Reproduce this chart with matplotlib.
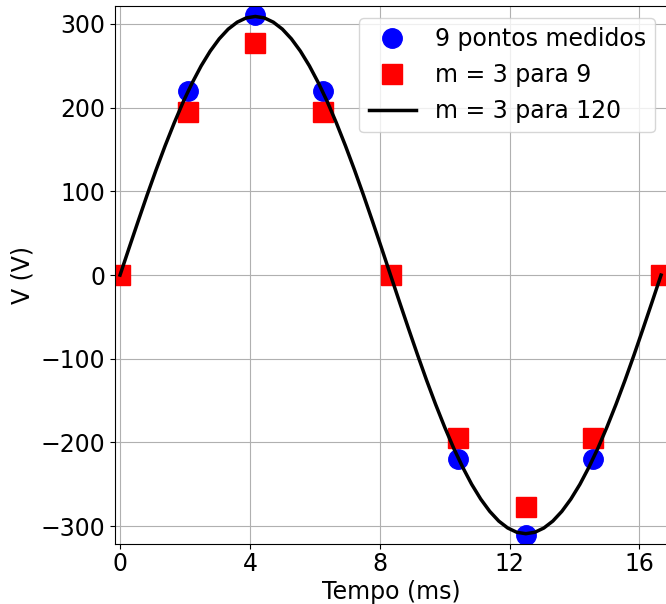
import matplotlib
matplotlib.use("Agg")
import matplotlib.pyplot as plt

# Data
t_pts = [0.0, 2.083, 4.167, 6.25, 8.333, 10.417, 12.5, 14.583, 16.667]
v_medidos = [0, 220, 311, 220, 0, -220, -311, -220, 0]
v_m3_9 = [0, 195, 277, 195, 0, -195, -277, -195, 0]

t_curve = [0.0, 0.278, 0.556, 0.833, 1.111, 1.389, 1.667, 1.944, 2.222, 2.5,
           2.778, 3.056, 3.333, 3.611, 3.889, 4.167, 4.444, 4.722, 5.0, 5.278,
           5.556, 5.833, 6.111, 6.389, 6.667, 6.944, 7.222, 7.5, 7.778, 8.056,
           8.333, 8.611, 8.889, 9.167, 9.444, 9.722, 10.0, 10.278, 10.556, 10.833,
           11.111, 11.389, 11.667, 11.944, 12.222, 12.5, 12.778, 13.056, 13.333, 13.611,
           13.889, 14.167, 14.444, 14.722, 15.0, 15.278, 15.556, 15.833, 16.111, 16.389,
           16.667]
v_curve = [0, 32.3, 64.2, 95.5, 125.7, 154.5, 181.6, 206.8, 229.6, 250.0,
           267.6, 282.3, 293.9, 302.2, 307.3, 309, 307.3, 302.2, 293.9, 282.3,
           267.6, 250.0, 229.6, 206.8, 181.6, 154.5, 125.7, 95.5, 64.2, 32.3,
           0, -32.3, -64.2, -95.5, -125.7, -154.5, -181.6, -206.8, -229.6, -250.0,
           -267.6, -282.3, -293.9, -302.2, -307.3, -309, -307.3, -302.2, -293.9, -282.3,
           -267.6, -250.0, -229.6, -206.8, -181.6, -154.5, -125.7, -95.5, -64.2, -32.3,
           0]

x_ticks = [0, 4, 8, 12, 16]
y_ticks = [-300, -200, -100, 0, 100, 200, 300]

plt.rcParams['font.family'] = ['DejaVu Sans']
fs = 17

fig = plt.figure(figsize=(6.66, 6.04), dpi=100)
ax = fig.add_axes([115/666, 60/604, 552/666, 538/604])

ax.plot(t_pts, v_medidos, 'o', color='blue', markersize=14, label='9 pontos medidos')
ax.plot(t_pts, v_m3_9, 's', color='red', markersize=14, label='m = 3 para 9')
ax.plot(t_curve, v_curve, '-', color='black', linewidth=2.5, label='m = 3 para 120')

ax.set_xlim(-0.155, 16.85)
ax.set_ylim(-321.3, 321.5)
ax.set_xticks(x_ticks)
ax.set_yticks(y_ticks)
ax.tick_params(labelsize=fs)
ax.tick_params(axis='x', pad=2.5)
ax.set_xlabel('Tempo (ms)', fontsize=fs, labelpad=2.5)
ax.set_ylabel('V (V)', fontsize=fs)
ax.grid(True)
ax.legend(loc='upper right', fontsize=fs)

fig.savefig('out.png', dpi=100)
